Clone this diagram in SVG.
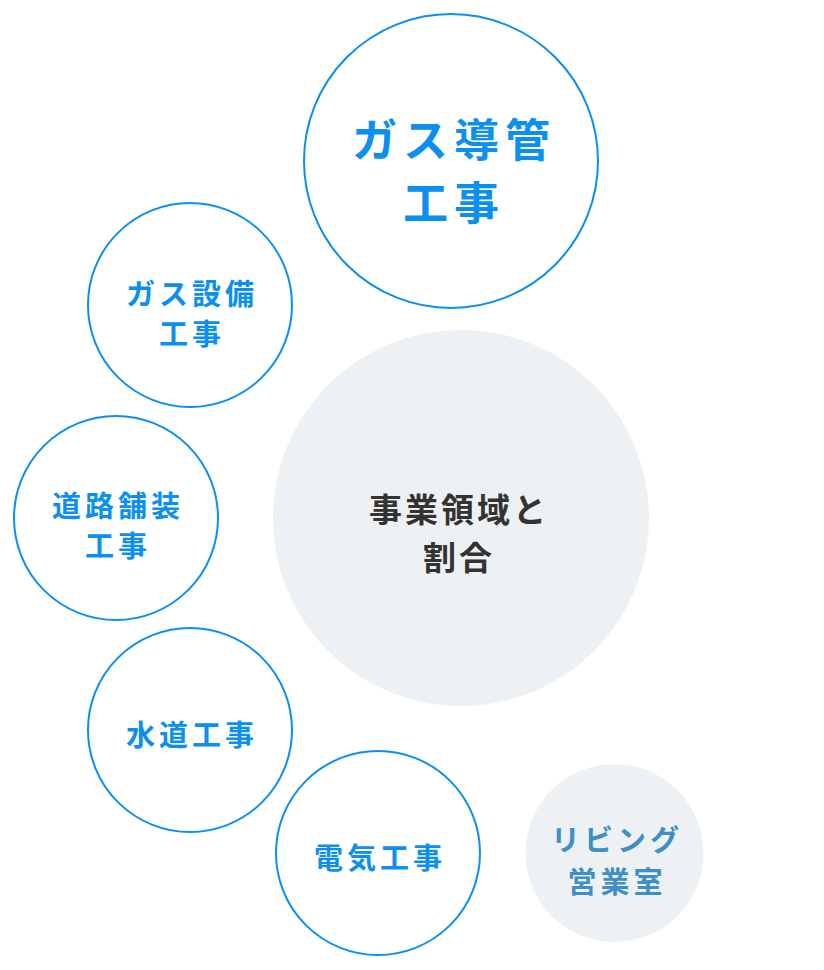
<svg xmlns="http://www.w3.org/2000/svg" width="824" height="970" viewBox="0 0 824 970">
<style>
.ring{fill:#fff;stroke:#0b8ff0;stroke-width:2}
.gray{fill:#eef1f4}
.t{font-family:"Noto Sans CJK JP","Noto Sans",sans-serif;font-weight:bold;text-anchor:middle}
.b{fill:#0b8ff0}
.s{font-size:29px;letter-spacing:4px}
.big{font-size:45px;letter-spacing:6px}
.c{font-size:33px;letter-spacing:3px;fill:#333}
.l{font-size:29px;letter-spacing:4px;fill:#3d8fc4}
</style>
<rect width="824" height="970" fill="#fff"/>
<g id="connectors"/>
<g id="n-gas-pipe">
<circle class="ring" cx="451" cy="161" r="147"/>
<text class="t b big" x="454" y="157">ガス導管</text>
<text class="t b big" x="454" y="220">工事</text>
</g>
<g id="n-gas-facility">
<circle class="ring" cx="190" cy="305" r="102"/>
<text class="t b s" x="192" y="305">ガス設備</text>
<text class="t b s" x="192" y="345">工事</text>
</g>
<g id="n-center">
<circle class="gray" cx="461" cy="518" r="188"/>
<text class="t c" x="459" y="522">事業領域と</text>
<text class="t c" x="459" y="570">割合</text>
</g>
<g id="n-road">
<circle class="ring" cx="116" cy="518" r="102"/>
<text class="t b s" x="118" y="517">道路舗装</text>
<text class="t b s" x="118" y="557">工事</text>
</g>
<g id="n-water">
<circle class="ring" cx="190" cy="730" r="102"/>
<text class="t b s" x="192" y="746">水道工事</text>
</g>
<g id="n-electric">
<circle class="ring" cx="378" cy="853" r="102"/>
<text class="t b s" x="380" y="869">電気工事</text>
</g>
<g id="n-living">
<circle class="gray" cx="614.5" cy="853" r="89"/>
<text class="t l" x="617" y="851">リビング</text>
<text class="t l" x="617" y="893">営業室</text>
</g>
</svg>
